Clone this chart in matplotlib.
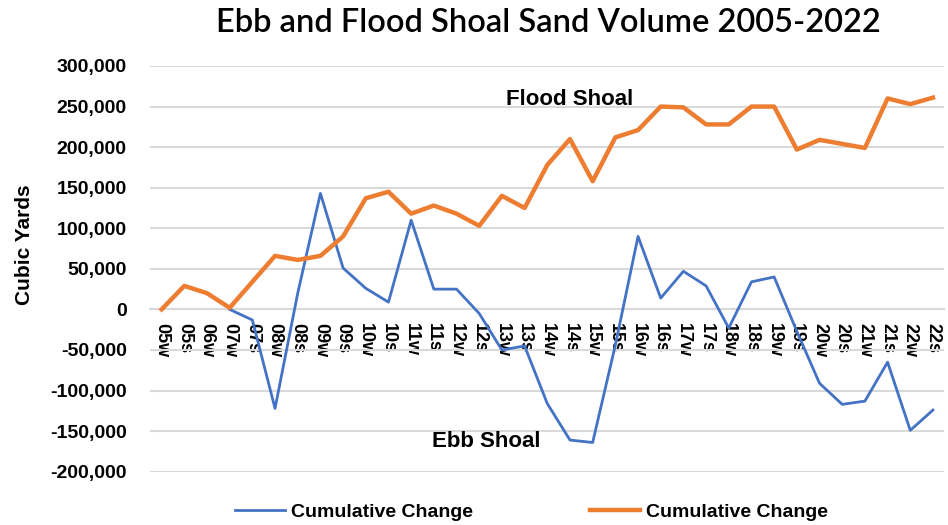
import matplotlib
matplotlib.use('Agg')
import matplotlib.pyplot as plt
from matplotlib.ticker import FuncFormatter
import numpy as np

# survey labels (year + w/s season)
surveys = ['05w', '05s', '06w', '07w', '07s', '08w', '08s', '09w', '09s', '10w',
           '10s', '11w', '11s', '12w', '12s', '13w', '13s', '14w', '14s', '15w',
           '15s', '16w', '16s', '17w', '17s', '18w', '18s', '19w', '19s', '20w',
           '20s', '21w', '21s', '22w', '22s']

# cumulative change, cubic yards
flood_shoal = [0, 29000, 20000, 2000, 34000, 66000, 61000, 66000, 90000, 137000,
               145000, 118000, 128000, 118000, 103000, 140000, 125000, 178000, 210000, 158000,
               212000, 221000, 250000, 249000, 228000, 228000, 250000, 250000, 197000, 209000,
               204000, 199000, 260000, 253000, 261000]
ebb_shoal = [np.nan, np.nan, np.nan, 0, -13000, -122000, 20000, 143000, 51000, 26000,
             9000, 110000, 25000, 25000, -5000, -50000, -45000, -116000, -161000, -164000,
             -44000, 90000, 14000, 47000, 29000, -23000, 34000, 40000, -27000, -91000,
             -117000, -113000, -65000, -149000, -124000]

yticks = list(range(-200000, 300001, 50000))

BLUE = '#4472C4'
ORANGE = '#ED7D31'
GRID = '#D9D9D9'
FONT = 'Liberation Sans'

fig = plt.figure(figsize=(9.48, 5.25), dpi=100)
ax = fig.add_axes([0.1585, 0.1015, 0.8376, 0.7728])

x = np.arange(len(surveys))
ax.plot(x, ebb_shoal, color=BLUE, lw=2.0, label='Cumulative Change', zorder=3)
ax.plot(x, flood_shoal, color=ORANGE, lw=3.2, label='Cumulative Change', zorder=4)

ax.set_xlim(-0.5, len(surveys) - 0.5)
ax.set_ylim(-200000, 300000)
ax.set_yticks(yticks)
ax.yaxis.set_major_formatter(FuncFormatter(lambda v, p: f'{int(v):,}'))
ax.grid(axis='y', color=GRID, lw=1.5, zorder=0)
ax.set_axisbelow(True)

for s in ['top', 'right', 'left']:
    ax.spines[s].set_visible(False)
ax.spines['bottom'].set_position(('data', 0))
ax.spines['bottom'].set_color(GRID)
ax.spines['bottom'].set_linewidth(1.5)

ax.set_xticks(x)
ax.set_xticklabels(surveys, rotation=270, fontsize=13, fontweight='bold', family=FONT)
ax.tick_params(axis='x', length=0, pad=10)
ax.tick_params(axis='y', length=0, pad=17)
for lab in ax.get_yticklabels():
    lab.set_fontsize(14)
    lab.set_fontweight('bold')
    lab.set_family(FONT)

ax.set_ylabel('Cubic Yards', fontsize=15, fontweight='bold', family=FONT)
ax.yaxis.set_label_coords(-0.147, 0.559)

ax.text(18, 259000, 'Flood Shoal', fontsize=16, fontweight='bold', family=FONT,
        ha='center', va='center')
ax.text(14.3, -163000, 'Ebb Shoal', fontsize=16, fontweight='bold', family=FONT,
        ha='center', va='center')

fig.text(548 / 948, 1 - 23 / 525, 'Ebb and Flood Shoal Sand Volume 2005-2022',
         fontsize=23.5, family='Lato', fontweight='semibold', ha='center', va='center')

leg = ax.legend(loc='center', bbox_to_anchor=(0.48, -0.099), ncol=2, frameon=False,
                handlelength=2.6, columnspacing=6.0, handletextpad=0.3,
                prop={'family': FONT, 'weight': 'bold', 'size': 14})

fig.savefig('out.png', dpi=100)
